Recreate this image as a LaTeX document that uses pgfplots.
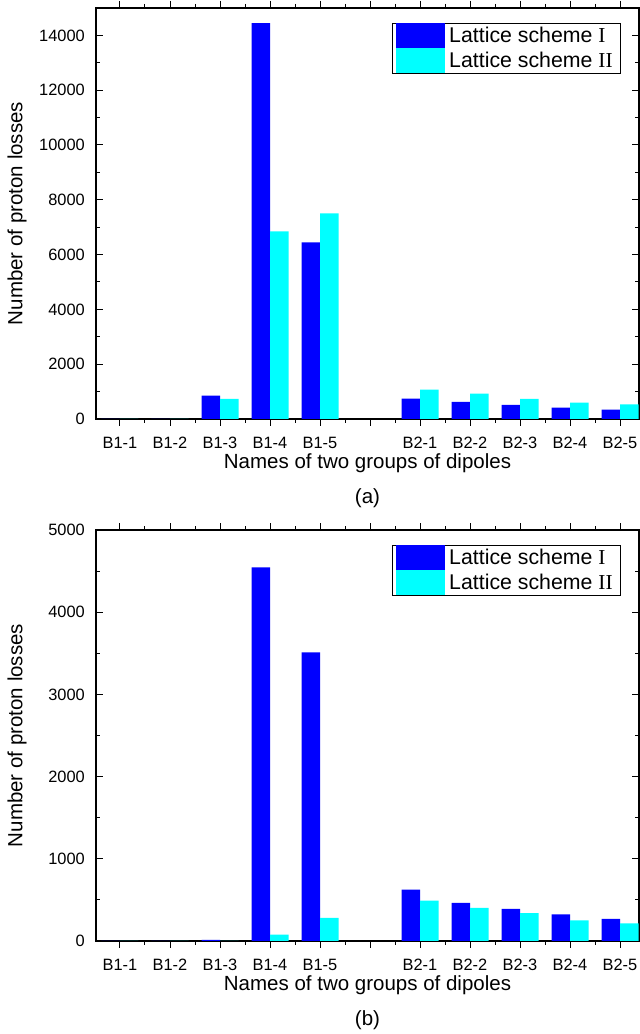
\documentclass[border=0pt]{standalone}
\usepackage{fontspec}
\setmainfont{Liberation Sans}
\newfontfamily\tms{Liberation Serif}
\usepackage{pgfplots}
\pgfplotsset{compat=1.18}
\definecolor{bI}{RGB}{0,0,255}
\definecolor{bII}{RGB}{0,255,255}
\newcommand{\tickfont}{\fontsize{16.4}{18}\selectfont}
\newcommand{\labfont}{\fontsize{20.5}{23}\selectfont}
\newcommand{\legfont}{\fontsize{21.3}{24}\selectfont}
\pgfplotsset{
  mystyle/.style={
    scale only axis, width=543pt, height=411pt,
    axis line style={line width=1.1pt},
    xmin=-0.48, xmax=10.38, ymin=0,
    scaled y ticks=false,
    xtick={0,...,10},
    xticklabels={B1-1,B1-2,B1-3,B1-4,B1-5,,B2-1,B2-2,B2-3,B2-4,B2-5},
    minor x tick num=1, minor y tick num=1,
    tick align=inside,
    major tick length=7pt, minor tick length=4pt,
    every tick/.style={line width=1pt, black},
    ybar=0pt, bar width=18.5pt,
    /pgf/number format/assume math mode=true,
    /pgf/number format/1000 sep={},
    ticklabel style={font=\tickfont},
    xticklabel style={anchor=base, yshift=-22.8pt, inner sep=0pt},
    yticklabel style={anchor=east, xshift=-11pt, inner sep=0pt},
    xlabel={Names of two groups of dipoles},
    ylabel={Number of proton losses},
    label style={font=\labfont},
    xlabel style={at={(axis description cs:0.5,0)}, anchor=center, yshift=-44pt},
    ylabel style={at={(axis description cs:-0.1455,0.5)}, anchor=center},
    legend cell align=left,
    legend image code/.code={\path (0pt,-12.5pt) rectangle (49pt,12.5pt);
      \fill[##1] (1pt,-11.5pt) rectangle (48pt,11.5pt);},
    legend style={at={(rel axis cs:1,1)}, xshift=-18pt, yshift=-15pt, anchor=north east,
      draw=black, line width=0.8pt, inner xsep=4pt, inner ysep=0pt, row sep=0pt, column sep=0pt, font=\legfont,
      nodes={inner xsep=4pt, inner ysep=0pt}},
  }
}
\begin{document}
\begin{tikzpicture}
\useasboundingbox (0,0) rectangle (640pt,1034pt);
\begin{axis}[mystyle, name=top, at={(96pt,615pt)}, anchor=south west,
  ymax=15000, ytick={0,2000,...,14000}]
\addplot[fill=bI, draw=none] coordinates {(0,0) (1,0) (2,852) (3,14450) (4,6450) (6,742) (7,621) (8,512) (9,414) (10,341)};
\addplot[fill=bII, draw=none] coordinates {(0,0) (1,0) (2,732) (3,6850) (4,7500) (6,1072) (7,925) (8,731) (9,597) (10,536)};
\addlegendentry{Lattice scheme {\tms I}}
\addlegendentry{Lattice scheme {\tms II}}
\end{axis}
\node[font=\labfont, anchor=center] at ([yshift=-79pt]top.south) {(a)};
\begin{axis}[mystyle, name=bot, at={(96pt,93pt)}, anchor=south west,
  ymax=5000, ytick={0,1000,...,5000}]
\addplot[fill=bI, draw=none] coordinates {(0,0) (1,0) (2,15) (3,4545) (4,3510) (6,625) (7,465) (8,392) (9,324) (10,270)};
\addplot[fill=bII, draw=none] coordinates {(0,0) (1,0) (2,0) (3,77) (4,280) (6,492) (7,404) (8,338) (9,250) (10,213)};
\addlegendentry{Lattice scheme {\tms I}}
\addlegendentry{Lattice scheme {\tms II}}
\end{axis}
\node[font=\labfont, anchor=center] at ([yshift=-79pt]bot.south) {(b)};
\end{tikzpicture}
\end{document}
